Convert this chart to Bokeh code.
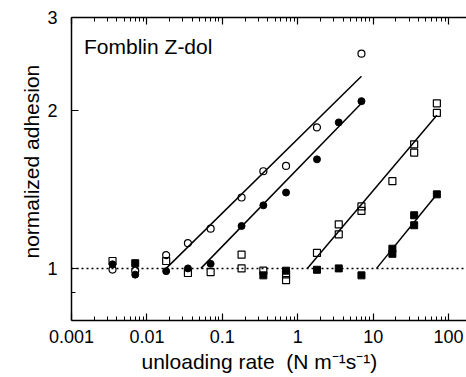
from bokeh.plotting import figure
from bokeh.models import LogAxis, FixedTicker, Label, Range1d, Span, Title
from bokeh.embed import file_html
from bokeh.resources import INLINE

# ---- data ----
open_circle_x = [0.0035, 0.007, 0.018, 0.035, 0.07, 0.18, 0.35, 0.7, 1.8, 7]
open_circle_y = [0.995, 0.99, 1.06, 1.117, 1.19, 1.364, 1.53, 1.566, 1.854, 2.56]

filled_circle_x = [0.0035, 0.007, 0.018, 0.035, 0.07, 0.18, 0.35, 0.7, 1.8, 3.5, 7]
filled_circle_y = [1.018, 0.973, 0.988, 1.0, 1.02, 1.204, 1.318, 1.394, 1.612, 1.895, 2.08]

open_square_x = [0.0035, 0.018, 0.035, 0.07, 0.18, 0.18, 0.35, 0.7, 0.7, 1.8,
                 3.5, 3.5, 7, 7, 18, 35, 35, 70, 70]
open_square_y = [1.033, 1.033, 0.98, 0.984, 1.062, 1.0, 0.99, 0.974, 0.95, 1.07,
                 1.213, 1.161, 1.312, 1.286, 1.465, 1.722, 1.66, 2.06, 1.975]

filled_square_x = [0.007, 0.35, 0.7, 1.8, 3.5, 7, 18, 18, 35, 35, 70]
filled_square_y = [1.023, 0.97, 0.99, 0.994, 1.0, 0.97, 1.09, 1.066, 1.262, 1.208, 1.383]

fit_open_circle_x = [0.018, 7]
fit_open_circle_y = [1.0, 2.32]
fit_filled_circle_x = [0.052, 7]
fit_filled_circle_y = [1.0, 2.06]
fit_open_square_x = [1.34, 70]
fit_open_square_y = [1.0, 1.956]
fit_filled_square_x = [11.1, 70]
fit_filled_square_y = [1.0, 1.383]

baseline_level = 1.0

x_tick_values = [0.001, 0.01, 0.1, 1, 10, 100]
x_tick_labels = ["0.001", "0.01", "0.1", "1", "10", "100"]
y_tick_values = [1, 2, 3]
y_tick_labels = ["1", "2", "3"]
y_minor_values = [0.9]

title_text = "Fomblin Z-dol"
x_label_text = "unloading rate \u00a0(N m\u207b\u00b9s\u207b\u00b9)"
y_label_text = "normalized adhesion"

# ---- figure ----
FONT = "Liberation Sans"

p = figure(width=466, height=377, x_axis_type="log", y_axis_type="log",
           x_range=Range1d(0.001, 173), y_range=Range1d(0.796, 3),
           output_backend="svg", toolbar_location=None,
           min_border_left=71, min_border_right=0, min_border_top=17,
           min_border_bottom=57)
p.outline_line_color = None
p.xgrid.visible = False
p.ygrid.visible = False
p.background_fill_color = "white"
p.border_fill_color = "white"

x_minor = [m * 10.0 ** e for e in range(-3, 3) for m in range(2, 10)]
xticker = FixedTicker(ticks=x_tick_values, minor_ticks=x_minor)
yticker = FixedTicker(ticks=y_tick_values, minor_ticks=y_minor_values)


def style_axis(ax, labels=True):
    ax.axis_line_color = "black"
    ax.axis_line_width = 1.5
    ax.major_tick_in = 7
    ax.major_tick_out = 0
    ax.minor_tick_in = 4
    ax.minor_tick_out = 0
    ax.major_tick_line_color = "black"
    ax.minor_tick_line_color = "black"
    ax.major_tick_line_width = 1.2
    ax.minor_tick_line_width = 1
    if labels:
        ax.major_label_text_font = FONT
        ax.major_label_text_font_size = "18px"
        ax.major_label_text_color = "black"
    else:
        ax.major_label_text_font_size = "1px"
        ax.major_label_text_alpha = 0
        ax.major_label_standoff = 0


xa = p.xaxis[0]
xa.ticker = xticker
xa.major_label_overrides = dict(zip(x_tick_values, x_tick_labels))
style_axis(xa)
xa.major_label_standoff = 9

ya = p.yaxis[0]
ya.ticker = yticker
ya.major_label_overrides = dict(zip(y_tick_values, y_tick_labels))
style_axis(ya)
ya.major_label_standoff = 14

top = LogAxis(ticker=xticker)
style_axis(top, labels=False)
p.add_layout(top, "above")

# axis titles placed as border titles so they are never clipped
p.add_layout(Title(text=x_label_text, align="left", offset=70, standoff=5,
                   text_font=FONT, text_font_size="21px", text_font_style="normal",
                   text_color="black"), "below")
p.add_layout(Title(text=y_label_text, align="left", offset=62, standoff=4,
                   text_font=FONT, text_font_size="21px", text_font_style="normal",
                   text_color="black"), "left")

# dotted reference at 1
p.add_layout(Span(location=baseline_level, dimension="width", line_color="black",
                  line_width=1.5, line_dash="2 3"))

# fit lines
for fx, fy in [(fit_open_circle_x, fit_open_circle_y),
               (fit_filled_circle_x, fit_filled_circle_y),
               (fit_open_square_x, fit_open_square_y),
               (fit_filled_square_x, fit_filled_square_y)]:
    p.line(fx, fy, line_color="black", line_width=1.5)

# markers
p.scatter(open_circle_x, open_circle_y, marker="circle", size=7,
          fill_alpha=0, line_color="black", line_width=1.2)
p.scatter(filled_circle_x, filled_circle_y, marker="circle", size=7,
          fill_color="black", line_color="black")
p.scatter(open_square_x, open_square_y, marker="square", size=7,
          fill_alpha=0, line_color="black", line_width=1.2)
p.scatter(filled_square_x, filled_square_y, marker="square", size=7,
          fill_color="black", line_color="black")

# in-plot title
p.add_layout(Label(x=0.001466, y=2.639, text=title_text, text_font=FONT,
                   text_font_size="21px", text_color="black",
                   text_baseline="alphabetic", text_align="left"))

open("out.html", "w").write(file_html(p, INLINE))
